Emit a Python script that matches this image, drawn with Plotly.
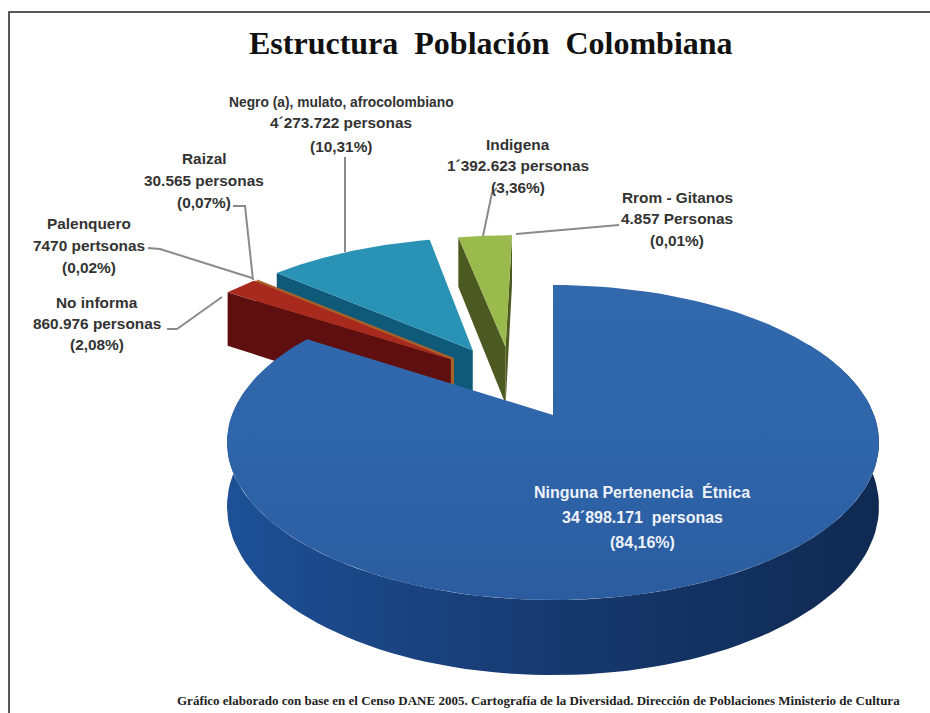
import numpy as np
import plotly.graph_objects as go

# Población por pertenencia étnica, Censo DANE 2005
categorias = ["Ninguna Pertenencia Étnica", "No informa", "Palenquero", "Raizal",
              "Negro (a), mulato, afrocolombiano", "Indigena", "Rrom - Gitanos"]
personas = [34898171, 860976, 7470, 30565, 4273722, 1392623, 4857]

# Separación de cada porción sobre el plano del disco (horizontal, profundidad)
separacion = [(0.0, 0.0), (-0.34, 0.39), (-0.335, 0.395), (-0.33, 0.40),
              (-0.27, 0.457), (-0.16, 0.483), (-0.16, 0.483)]
color_cara = ["#2f62a6", "#a82a1f", "#c8792c", "#b9803a", "#2a93b5", "#9aba4e", "#9aba4e"]
color_pared = ["#1b4a8a", "#5f0f0f", "#a8602a", "#a8602a", "#0f5a78", "#4c5a22", "#4c5a22"]

# Proyección en perspectiva del disco sobre la página
CX, CY = 553, 415
A, B, K, ALTO = 321, 152.7, 0.1746, 62


def proyectar(u, v, z=0.0):
    d = 1 + K * v
    return CX + A * u / d, CY - B * v / d + ALTO * z / d


def arco(a0, a1, off=(0, 0), z=0.0):
    t = np.linspace(a0, a1, 120)
    return proyectar(off[0] + np.sin(t), off[1] + np.cos(t), z)


total = sum(personas)
cortes = 2 * np.pi * np.cumsum([0] + personas) / total

fig = go.Figure()


def poligono(x, y, color=None, gradiente=None):
    fig.add_trace(go.Scatter(
        x=list(x), y=list(y), mode="lines", fill="toself", hoverinfo="skip",
        line=dict(width=0, color=color or "#000"),
        fillcolor=color, fillgradient=gradiente, showlegend=False))


# Porciones separadas, de atrás hacia adelante
for i in [6, 5, 4, 3, 2, 1]:
    a0, a1 = cortes[i], cortes[i + 1]
    off = separacion[i]
    # pared radial del primer corte
    px0, py0 = proyectar(off[0] + np.sin(a0), off[1] + np.cos(a0))
    px1, py1 = proyectar(off[0], off[1])
    qx0, qy0 = proyectar(off[0] + np.sin(a0), off[1] + np.cos(a0), 1)
    qx1, qy1 = proyectar(off[0], off[1], 1)
    poligono([px0, px1, qx1, qx0, px0], [py0, py1, qy1, qy0, py0], color_pared[i])
    # cara superior
    ax, ay = arco(a0, a1, off)
    cx, cy = proyectar(off[0], off[1])
    poligono(np.r_[cx, ax, cx], np.r_[cy, ay, cy], color_cara[i])

# Pared exterior de la porción principal
a0, a1 = cortes[0], cortes[1]
t0 = np.radians(60)
t1 = np.radians(300)
tx, ty = arco(t0, t1)
bx, by = arco(t1, t0, z=1)
poligono(np.r_[tx, bx], np.r_[ty, by], gradiente=dict(
    type="horizontal",
    colorscale=[[0, "#1d5096"], [0.5, "#17396f"], [1, "#0f2a52"]]))

# Cara superior de la porción principal
ax, ay = arco(a0, a1)
poligono(np.r_[CX, ax, CX], np.r_[CY, ay, CY], gradiente=dict(
    type="vertical",
    colorscale=[[0, "#2b5c9f"], [0.5, "#2f65aa"], [1, "#3268ac"]]))

# Líneas guía de las etiquetas
guias = [
    ([345, 345], [157, 252]),
    ([233, 245, 253], [206, 206, 280]),
    ([148, 160, 252], [248, 249, 278]),
    ([167, 177, 222], [329, 329, 297]),
    ([497, 492, 483], [188, 193, 236]),
    ([516, 619], [234, 225]),
]
for x, y in guias:
    fig.add_trace(go.Scatter(x=x, y=y, mode="lines", hoverinfo="skip", showlegend=False,
                             line=dict(color="#8a8a8a", width=2)))

etiquetas = [
    (642, 492, 517, 542, "Ninguna Pertenencia  Étnica", "34´898.171  personas", "(84,16%)", "#eef2f8"),
    (341, 102, 122, 146, "Negro (a), mulato, afrocolombiano", "4´273.722 personas", "(10,31%)", "#333333"),
    (204, 158, 180, 202, "Raizal", "30.565 personas", "(0,07%)", "#333333"),
    (89, 223, 245, 267, "Palenquero", "7470 pertsonas", "(0,02%)", "#333333"),
    (97, 302, 323, 344, "No informa", "860.976 personas", "(2,08%)", "#333333"),
    (518, 144, 165, 187, "Indigena", "1´392.623 personas", "(3,36%)", "#333333"),
    (677, 197, 218, 240, "Rrom - Gitanos", "4.857 Personas", "(0,01%)", "#333333"),
]
anotaciones = []
for x, y0, y1, y2, t0_, t1_, t2_, col in etiquetas:
    for y, t in zip((y0, y1, y2), (t0_, t1_, t2_)):
        if t.startswith("Negro"):
            tam = 13.8
        elif col == "#eef2f8":
            tam = 16
        else:
            tam = 15.4
        anotaciones.append(dict(x=x, y=y, text=f"<b>{t}</b>", showarrow=False, xanchor="center",
                                yanchor="middle", font=dict(family="Liberation Sans", size=tam, color=col)))

anotaciones.append(dict(x=491, y=43, text="<b>Estructura  Población  Colombiana</b>", showarrow=False,
                        xanchor="center", yanchor="middle",
                        font=dict(family="Liberation Serif", size=32, color="#111111")))
anotaciones.append(dict(x=538, y=700,
                        text="<b>Gráfico elaborado con base en el Censo DANE 2005. Cartografía de la Diversidad. "
                             "Dirección de Poblaciones Ministerio de Cultura</b>",
                        showarrow=False, xanchor="center", yanchor="middle",
                        font=dict(family="Liberation Serif", size=13, color="#222222")))

fig.update_layout(
    width=930, height=713, margin=dict(l=0, r=0, t=0, b=0),
    paper_bgcolor="white", plot_bgcolor="white", showlegend=False,
    xaxis=dict(range=[0, 930], visible=False, fixedrange=True),
    yaxis=dict(range=[713, 0], visible=False, fixedrange=True),
    annotations=anotaciones,
    shapes=[dict(type="path", path="M 9 713 L 9 12 L 930 12", line=dict(color="#222222", width=1.5))],
)

fig.write_html("out.html")
